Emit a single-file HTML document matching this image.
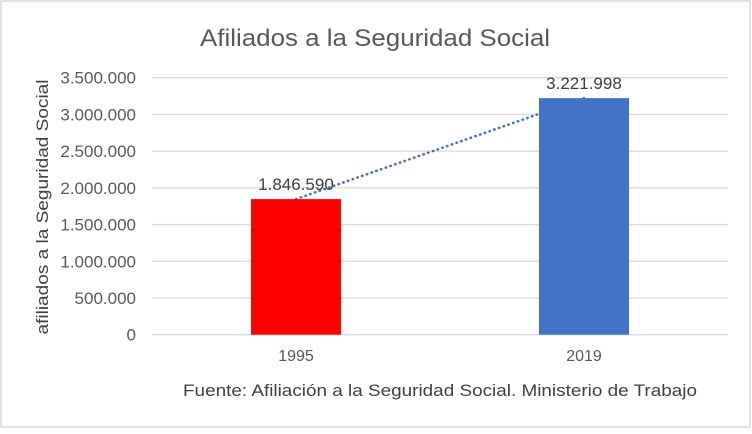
<!DOCTYPE html>
<html><head><meta charset="utf-8"><style>
body{margin:0;background:#fff;}
svg text{font-family:"Liberation Sans",sans-serif;}
</style></head><body>
<svg width="752" height="429" viewBox="0 0 752 429">
<rect x="1" y="1" width="749" height="426" fill="#fff" stroke="#d9d9d9" stroke-width="1.5"/>
<text x="375" y="46" text-anchor="middle" font-size="24" fill="#595959" textLength="350" lengthAdjust="spacingAndGlyphs">Afiliados a la Seguridad Social</text>
<text transform="translate(48,207) rotate(-90)" text-anchor="middle" font-size="17" fill="#404040" textLength="255" lengthAdjust="spacingAndGlyphs">afiliados a la Seguridad Social</text>
<g id="grid"></g><g id="ylabels"></g><g id="trend"></g><g id="bars"></g><g id="xlabels"></g>
<text x="440" y="396" text-anchor="middle" font-size="17" fill="#404040" textLength="514" lengthAdjust="spacingAndGlyphs">Fuente: Afiliación a la Seguridad Social. Ministerio de Trabajo</text>
</svg>
<script>
const categories=["1995","2019"];
const values=[1846590,3221998];
const valueLabels=["1.846.590","3.221.998"];
const ticks=[0,500000,1000000,1500000,2000000,2500000,3000000,3500000];
const tickLabels=["0","500.000","1.000.000","1.500.000","2.000.000","2.500.000","3.000.000","3.500.000"];
const colors=["#ff0000","#4472c4"];
const NS="http://www.w3.org/2000/svg";
const x0=152,x1=728,y0=334.7,y1=77.7,yMax=3500000;
const y=v=>y0-(v/yMax)*(y0-y1);
const band=(x1-x0)/categories.length;
const xc=i=>x0+band*(i+0.5);
const bw=90;
function mk(t,a,p){const e=document.createElementNS(NS,t);for(const k in a)e.setAttribute(k,a[k]);document.getElementById(p).appendChild(e);return e;}
ticks.forEach((t,i)=>{
 const l=mk('line',{x1:x0,x2:x1,y1:y(t),y2:y(t),stroke:'#d9d9d9','stroke-width':1.3},'grid');
 
 
 const tx=mk('text',{x:136,y:y(t)+6,'text-anchor':'end','font-size':17,fill:'#595959'},'ylabels');
 tx.textContent=tickLabels[i];
 
 
});
const tl=mk('line',{x1:xc(0),y1:y(values[0]),x2:xc(1),y2:y(values[1]),stroke:'#4472c4','stroke-width':2.5,'stroke-dasharray':'0.5 4.5','stroke-linecap':'round'},'trend');


categories.forEach((c,i)=>{
 const r=mk('rect',{x:xc(i)-bw/2,y:y(values[i]),width:bw,height:y0-y(values[i]),fill:colors[i]},'bars');
 
 
 const v=mk('text',{x:xc(i),y:y(values[i])-9,'text-anchor':'middle','font-size':17,fill:'#404040'},'bars');
 v.textContent=valueLabels[i];
 
 
 const xl=mk('text',{x:xc(i),y:361,'text-anchor':'middle','font-size':16,fill:'#595959'},'xlabels');
 xl.textContent=c;
 
 
});
</script>
</body></html>
